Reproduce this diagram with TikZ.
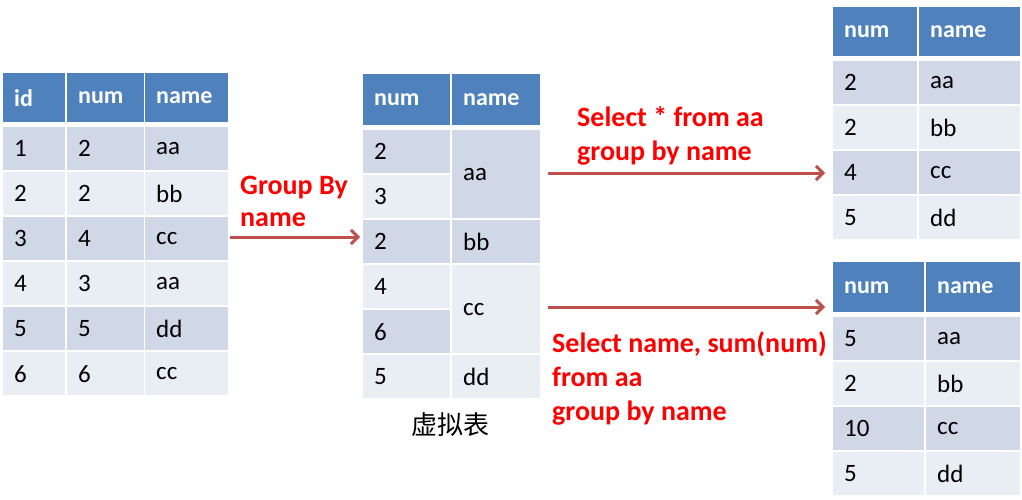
\documentclass[tikz,border=0pt]{standalone}
\usepackage{fontspec}
\setmainfont{Carlito}
\newfontfamily\cjk{Noto Sans CJK SC}
\usetikzlibrary{arrows.meta}
\definecolor{hdblue}{HTML}{4F81BD}
\definecolor{rowdark}{HTML}{D0D8E8}
\definecolor{rowlight}{HTML}{E9EDF4}
\definecolor{arrowred}{HTML}{C0504D}
\begin{document}
\begin{tikzpicture}[x=1pt, y=-1pt,
    cell/.style={anchor=north west, inner xsep=11pt, inner ysep=0pt, text width=#1, align=left, font=\fontsize{25}{29}\selectfont},
    hd/.style={fill=hdblue, text=white, font=\bfseries\fontsize{24}{28}\selectfont},
    dk/.style={fill=rowdark, minimum height=43pt},
    lt/.style={fill=rowlight, minimum height=43pt},
    sql/.style={anchor=base west, inner sep=0pt, text=red, font=\bfseries\fontsize{28}{34}\selectfont},
    flow/.style={draw=arrowred, line width=3pt, -{Straight Barb[length=7pt,width=14pt]}}]
    \useasboundingbox (0,0) rectangle (1022,500);
    % source table
    \node[cell=40pt, hd, minimum height=49pt] (t1id0) at (3,73) {id};
    \node[cell=55pt, hd, minimum height=49pt] (t1num0) at (67,73) {num};
    \node[cell=61pt, hd, minimum height=49pt] (t1name0) at (145,73) {name};
    \node[cell=40pt, dk] (t1id1) at (3,127) {1};
    \node[cell=55pt, dk] (t1num1) at (67,127) {2};
    \node[cell=61pt, dk] (t1name1) at (145,127) {aa};
    \node[cell=40pt, lt] (t1id2) at (3,172) {2};
    \node[cell=55pt, lt] (t1num2) at (67,172) {2};
    \node[cell=61pt, lt] (t1name2) at (145,172) {bb};
    \node[cell=40pt, dk] (t1id3) at (3,217) {3};
    \node[cell=55pt, dk] (t1num3) at (67,217) {4};
    \node[cell=61pt, dk] (t1name3) at (145,217) {cc};
    \node[cell=40pt, lt] (t1id4) at (3,262) {4};
    \node[cell=55pt, lt] (t1num4) at (67,262) {3};
    \node[cell=61pt, lt] (t1name4) at (145,262) {aa};
    \node[cell=40pt, dk] (t1id5) at (3,307) {5};
    \node[cell=55pt, dk] (t1num5) at (67,307) {5};
    \node[cell=61pt, dk] (t1name5) at (145,307) {dd};
    \node[cell=40pt, lt] (t1id6) at (3,352) {6};
    \node[cell=55pt, lt] (t1num6) at (67,352) {6};
    \node[cell=61pt, lt] (t1name6) at (145,352) {cc};
    % virtual table
    \node[cell=65pt, hd, minimum height=51pt] (t2num0) at (363,74) {num};
    \node[cell=66pt, hd, minimum height=51pt] (t2name0) at (452,74) {name};
    \node[cell=65pt, dk] (t2num1) at (363,130) {2};
    \node[cell=65pt, lt] (t2num2) at (363,175) {3};
    \node[cell=65pt, dk] (t2num3) at (363,220) {2};
    \node[cell=65pt, lt] (t2num4) at (363,265) {4};
    \node[cell=65pt, dk] (t2num5) at (363,310) {6};
    \node[cell=65pt, lt] (t2num6) at (363,355) {5};
    \node[cell=66pt, dk, minimum height=88pt] (t2name1) at (452,130) {aa};
    \node[cell=66pt, dk] (t2name3) at (452,220) {bb};
    \node[cell=66pt, lt, minimum height=88pt] (t2name4) at (452,265) {cc};
    \node[cell=66pt, lt] (t2name6) at (452,355) {dd};
    \node[font=\cjk\fontsize{26}{30}\selectfont] (vt) at (450,425) {虚拟表};
    % select * result
    \node[cell=62pt, hd, minimum height=49pt] (t3num0) at (833,7) {num};
    \node[cell=79pt, hd, minimum height=49pt] (t3name0) at (919,7) {name};
    \node[cell=62pt, dk] (t3num1) at (833,61) {2};
    \node[cell=79pt, dk] (t3name1) at (919,61) {aa};
    \node[cell=62pt, lt] (t3num2) at (833,106) {2};
    \node[cell=79pt, lt] (t3name2) at (919,106) {bb};
    \node[cell=62pt, dk] (t3num3) at (833,151) {4};
    \node[cell=79pt, dk] (t3name3) at (919,151) {cc};
    \node[cell=62pt, lt] (t3num4) at (833,196) {5};
    \node[cell=79pt, lt] (t3name4) at (919,196) {dd};
    % sum result
    \node[cell=69pt, hd, minimum height=50pt] (t4num0) at (833,262) {num};
    \node[cell=72pt, hd, minimum height=50pt] (t4name0) at (926,262) {name};
    \node[cell=69pt, dk] (t4num1) at (833,317) {5};
    \node[cell=72pt, dk] (t4name1) at (926,317) {aa};
    \node[cell=69pt, lt] (t4num2) at (833,362) {2};
    \node[cell=72pt, lt] (t4name2) at (926,362) {bb};
    \node[cell=69pt, dk] (t4num3) at (833,407) {10};
    \node[cell=72pt, dk] (t4name3) at (926,407) {cc};
    \node[cell=69pt, lt] (t4num4) at (833,452) {5};
    \node[cell=72pt, lt] (t4name4) at (926,452) {dd};
    % labels
    \node[sql] (gb1) at (240,194) {Group By};
    \node[sql] (gb2) at (240,226) {name};
    \node[sql] (s1a) at (577,127) {Select * from aa};
    \node[sql] (s1b) at (577,160) {group by name};
    \node[sql] (s2a) at (552,352) {Select name, sum(num)};
    \node[sql] (s2b) at (552,386) {from aa};
    \node[sql] (s2c) at (552,420) {group by name};
    % arrows
    \coordinate (g) at (230,237);
    \draw[flow, shorten >=3pt] (g) -- (g -| t2num3.west);
    \coordinate (a1) at (548,173);
    \draw[flow, shorten >=8pt] (a1) -- (a1 -| t3num3.west);
    \coordinate (a2) at (548,307);
    \draw[flow, shorten >=8pt] (a2) -- (a2 -| t4num0.west);
\end{tikzpicture}
\end{document}
